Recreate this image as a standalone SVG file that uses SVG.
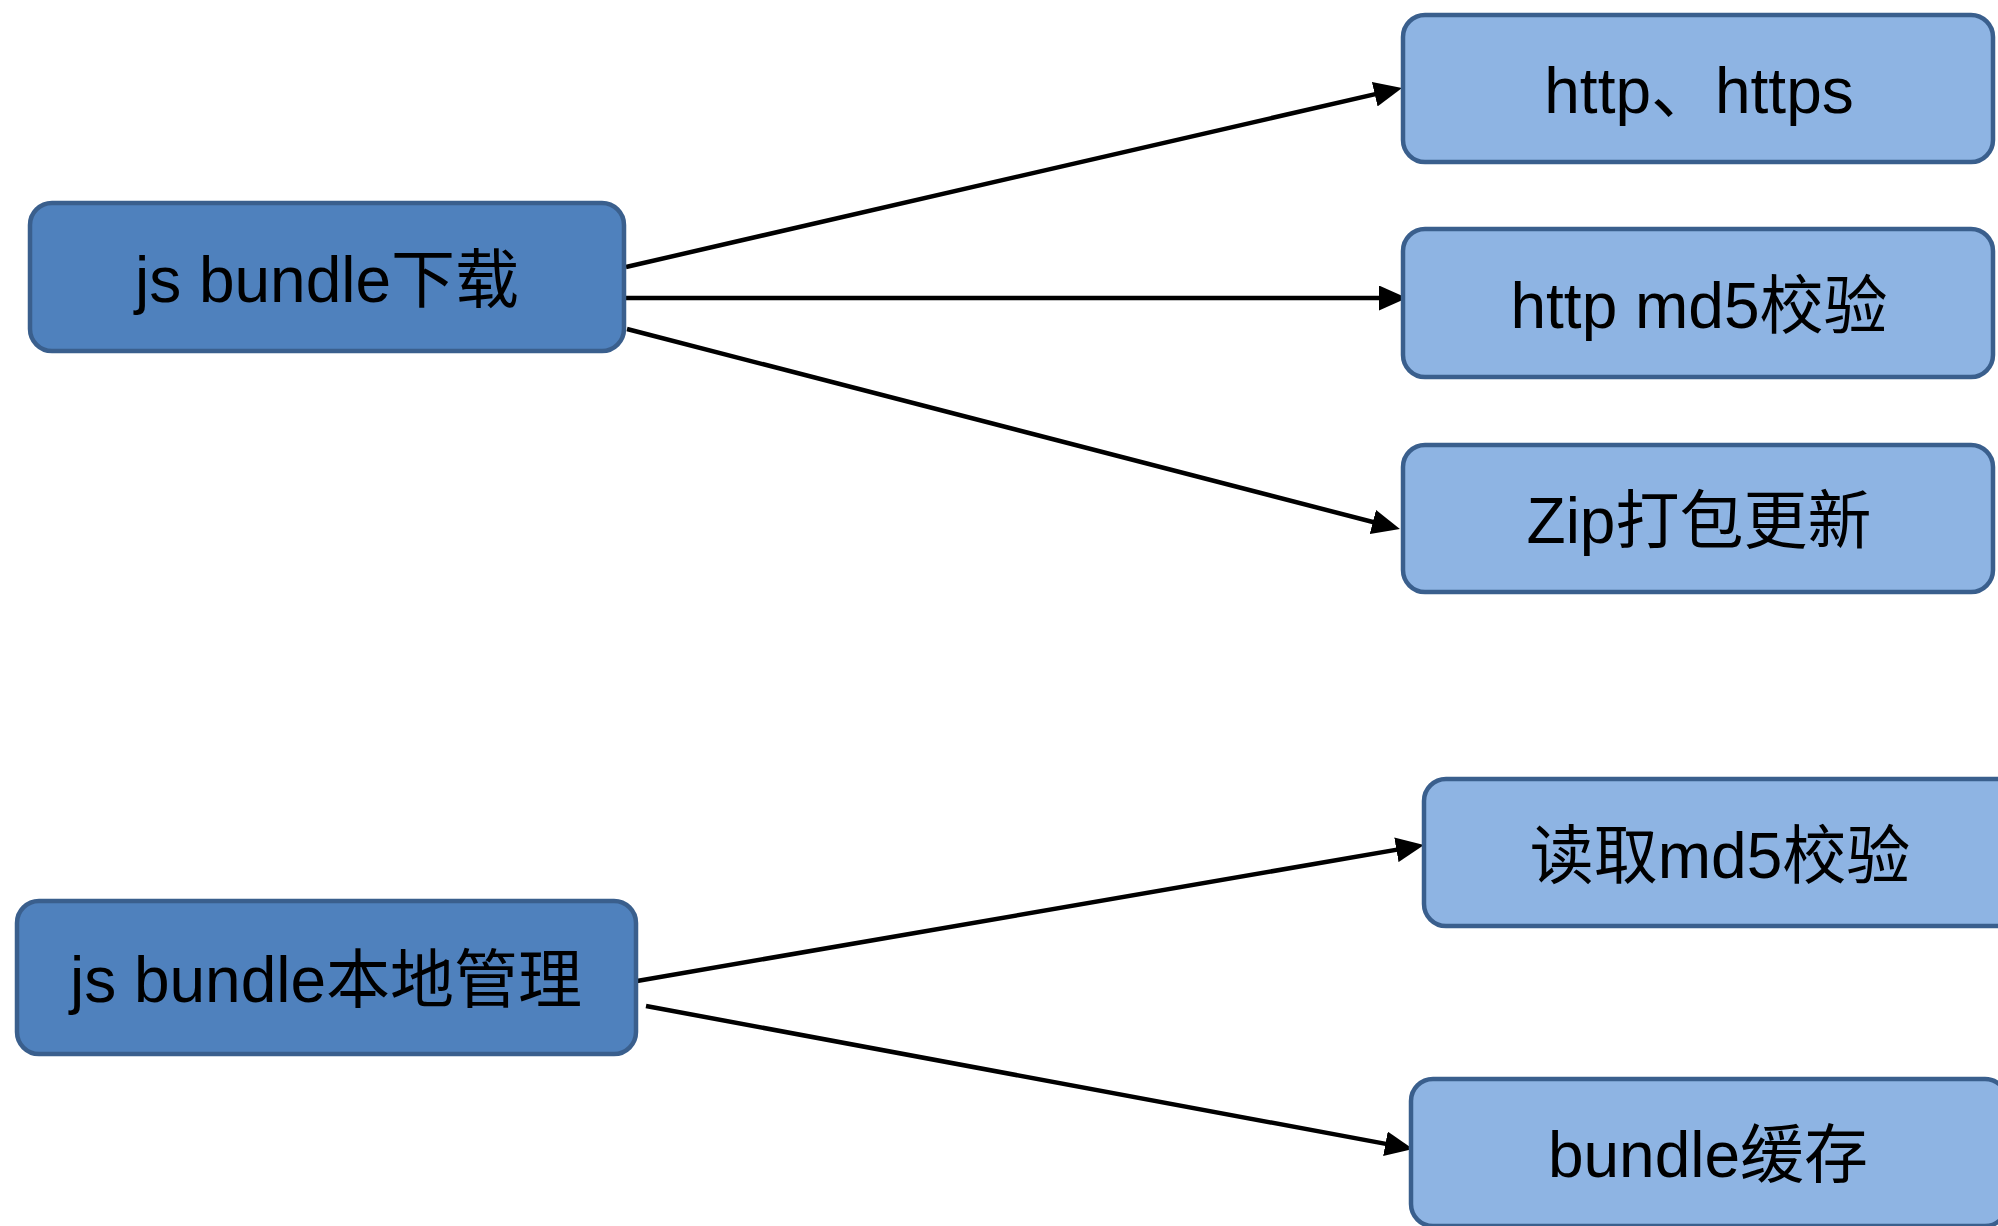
<svg xmlns="http://www.w3.org/2000/svg" width="1998" height="1226" viewBox="0 0 1998 1226">
<style>
.dark{fill:#4F81BD;stroke:#3A5F8D;stroke-width:4.5}
.light{fill:#8EB4E3;stroke:#3A5F8D;stroke-width:4.5}
.lbl{font-family:"Liberation Sans","Noto Sans CJK SC",sans-serif;font-size:64px;fill:#000;text-anchor:middle}
.con{stroke:#000;stroke-width:4.5;fill:none;marker-end:url(#ah)}
</style>
<defs>
<marker id="ah" markerUnits="userSpaceOnUse" markerWidth="28" markerHeight="25" refX="14" refY="12.5" orient="auto">
<path d="M0,0 L28,12.5 L0,25 z" fill="#000"/>
</marker>
</defs>
<rect width="1998" height="1226" fill="#fff"/>
<g id="connectors">
<line class="con" x1="626" y1="267" x2="1388.4" y2="91.1"/>
<line class="con" x1="619" y1="298" x2="1393" y2="298"/>
<line class="con" x1="627" y1="329" x2="1386.4" y2="525.5"/>
<line class="con" x1="637" y1="981" x2="1410.2" y2="847.4"/>
<line class="con" x1="646" y1="1006" x2="1399.2" y2="1146.4"/>
</g>
<g id="node-download">
<rect class="dark" x="30" y="203" width="594" height="148" rx="22"/>
<text class="lbl" x="327" y="302">js bundle下载</text>
</g>
<g id="node-https">
<rect class="light" x="1403" y="15" width="590" height="147" rx="22"/>
<text class="lbl" x="1699" y="113">http、https</text>
</g>
<g id="node-md5">
<rect class="light" x="1403" y="229" width="590" height="148" rx="22"/>
<text class="lbl" x="1699" y="328">http md5校验</text>
</g>
<g id="node-zip">
<rect class="light" x="1403" y="445" width="590" height="147" rx="22"/>
<text class="lbl" x="1699" y="543">Zip打包更新</text>
</g>
<g id="node-local">
<rect class="dark" x="17" y="901" width="619" height="153" rx="22"/>
<text class="lbl" x="326" y="1002">js bundle本地管理</text>
</g>
<g id="node-readmd5">
<rect class="light" x="1424" y="779" width="594" height="147" rx="22"/>
<text class="lbl" x="1720" y="878">读取md5校验</text>
</g>
<g id="node-cache">
<rect class="light" x="1411" y="1079" width="596" height="147" rx="22"/>
<text class="lbl" x="1708" y="1177">bundle缓存</text>
</g>
</svg>
